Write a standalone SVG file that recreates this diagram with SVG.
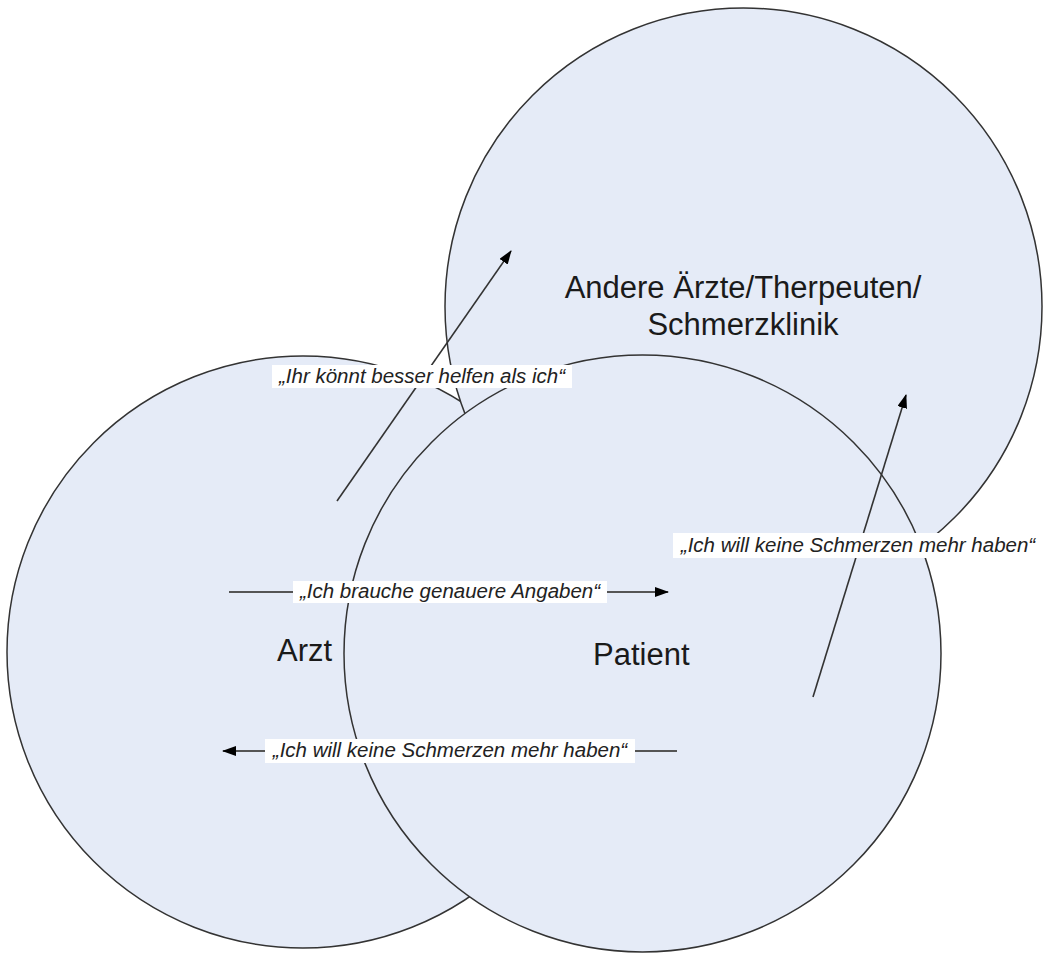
<svg xmlns="http://www.w3.org/2000/svg" width="1043" height="954" viewBox="0 0 1043 954">
  <style>
    .bubble { fill: #E5EBF7; stroke: #333333; stroke-width: 1.5; }
    .title { font-family: "Liberation Sans", Arial, sans-serif; font-size: 31px; fill: #1a1a1a; }
    .edge { fill: none; stroke: #333333; stroke-width: 1.6; }
    .flat { fill: none; stroke: #555555; stroke-width: 2; }
    .tag-bg { fill: #ffffff; stroke: none; }
    .tag { font-family: "Liberation Sans", Arial, sans-serif; font-size: 20.5px; font-style: italic; fill: #222222; text-anchor: middle; }
  </style>
  <defs>
    <marker id="head" viewBox="0 0 14 10" refX="13" refY="5" markerWidth="14" markerHeight="10" markerUnits="userSpaceOnUse" orient="auto">
      <path d="M0,0 L14,5 L0,10 z" fill="#000000"/>
    </marker>
  </defs>

  <rect x="0" y="0" width="1043" height="954" fill="#ffffff"/>

  <!-- Arzt -->
  <g id="arzt">
    <circle class="bubble" cx="303" cy="652" r="296"/>
    <text class="title" x="277" y="661">Arzt</text>
  </g>

  <!-- Andere Ärzte / Therapeuten / Schmerzklinik -->
  <g id="andere">
    <circle class="bubble" cx="743.5" cy="306.5" r="298.5"/>
    <text class="title" text-anchor="middle" x="743" y="298">Andere Ärzte/Therpeuten/</text>
    <text class="title" text-anchor="middle" x="743" y="335">Schmerzklinik</text>
  </g>

  <!-- Patient -->
  <g id="patient">
    <circle class="bubble" cx="642.5" cy="653.5" r="298.5"/>
    <text class="title" x="593" y="665">Patient</text>
  </g>

  <!-- connectors with their labels -->
  <g id="connectors">
    <line class="edge" x1="337" y1="501" x2="511" y2="251" marker-end="url(#head)"/>
    <line class="flat" x1="229" y1="592" x2="668" y2="592" marker-end="url(#head)"/>
    <line class="flat" x1="677" y1="751" x2="223" y2="751" marker-end="url(#head)"/>
    <line class="edge" x1="813" y1="697" x2="906" y2="395" marker-end="url(#head)"/>

    <rect class="tag-bg" x="272" y="365" width="300" height="23"/>
    <text class="tag" x="422" y="383">„Ihr könnt besser helfen als ich“</text>

    <rect class="tag-bg" x="293" y="581" width="314" height="22"/>
    <text class="tag" x="450" y="598">„Ich brauche genauere Angaben“</text>

    <rect class="tag-bg" x="265" y="739" width="370" height="24"/>
    <text class="tag" x="450" y="757">„Ich will keine Schmerzen mehr haben“</text>

    <rect class="tag-bg" x="673" y="533" width="370" height="25"/>
    <text class="tag" x="858" y="552">„Ich will keine Schmerzen mehr haben“</text>
  </g>
</svg>
